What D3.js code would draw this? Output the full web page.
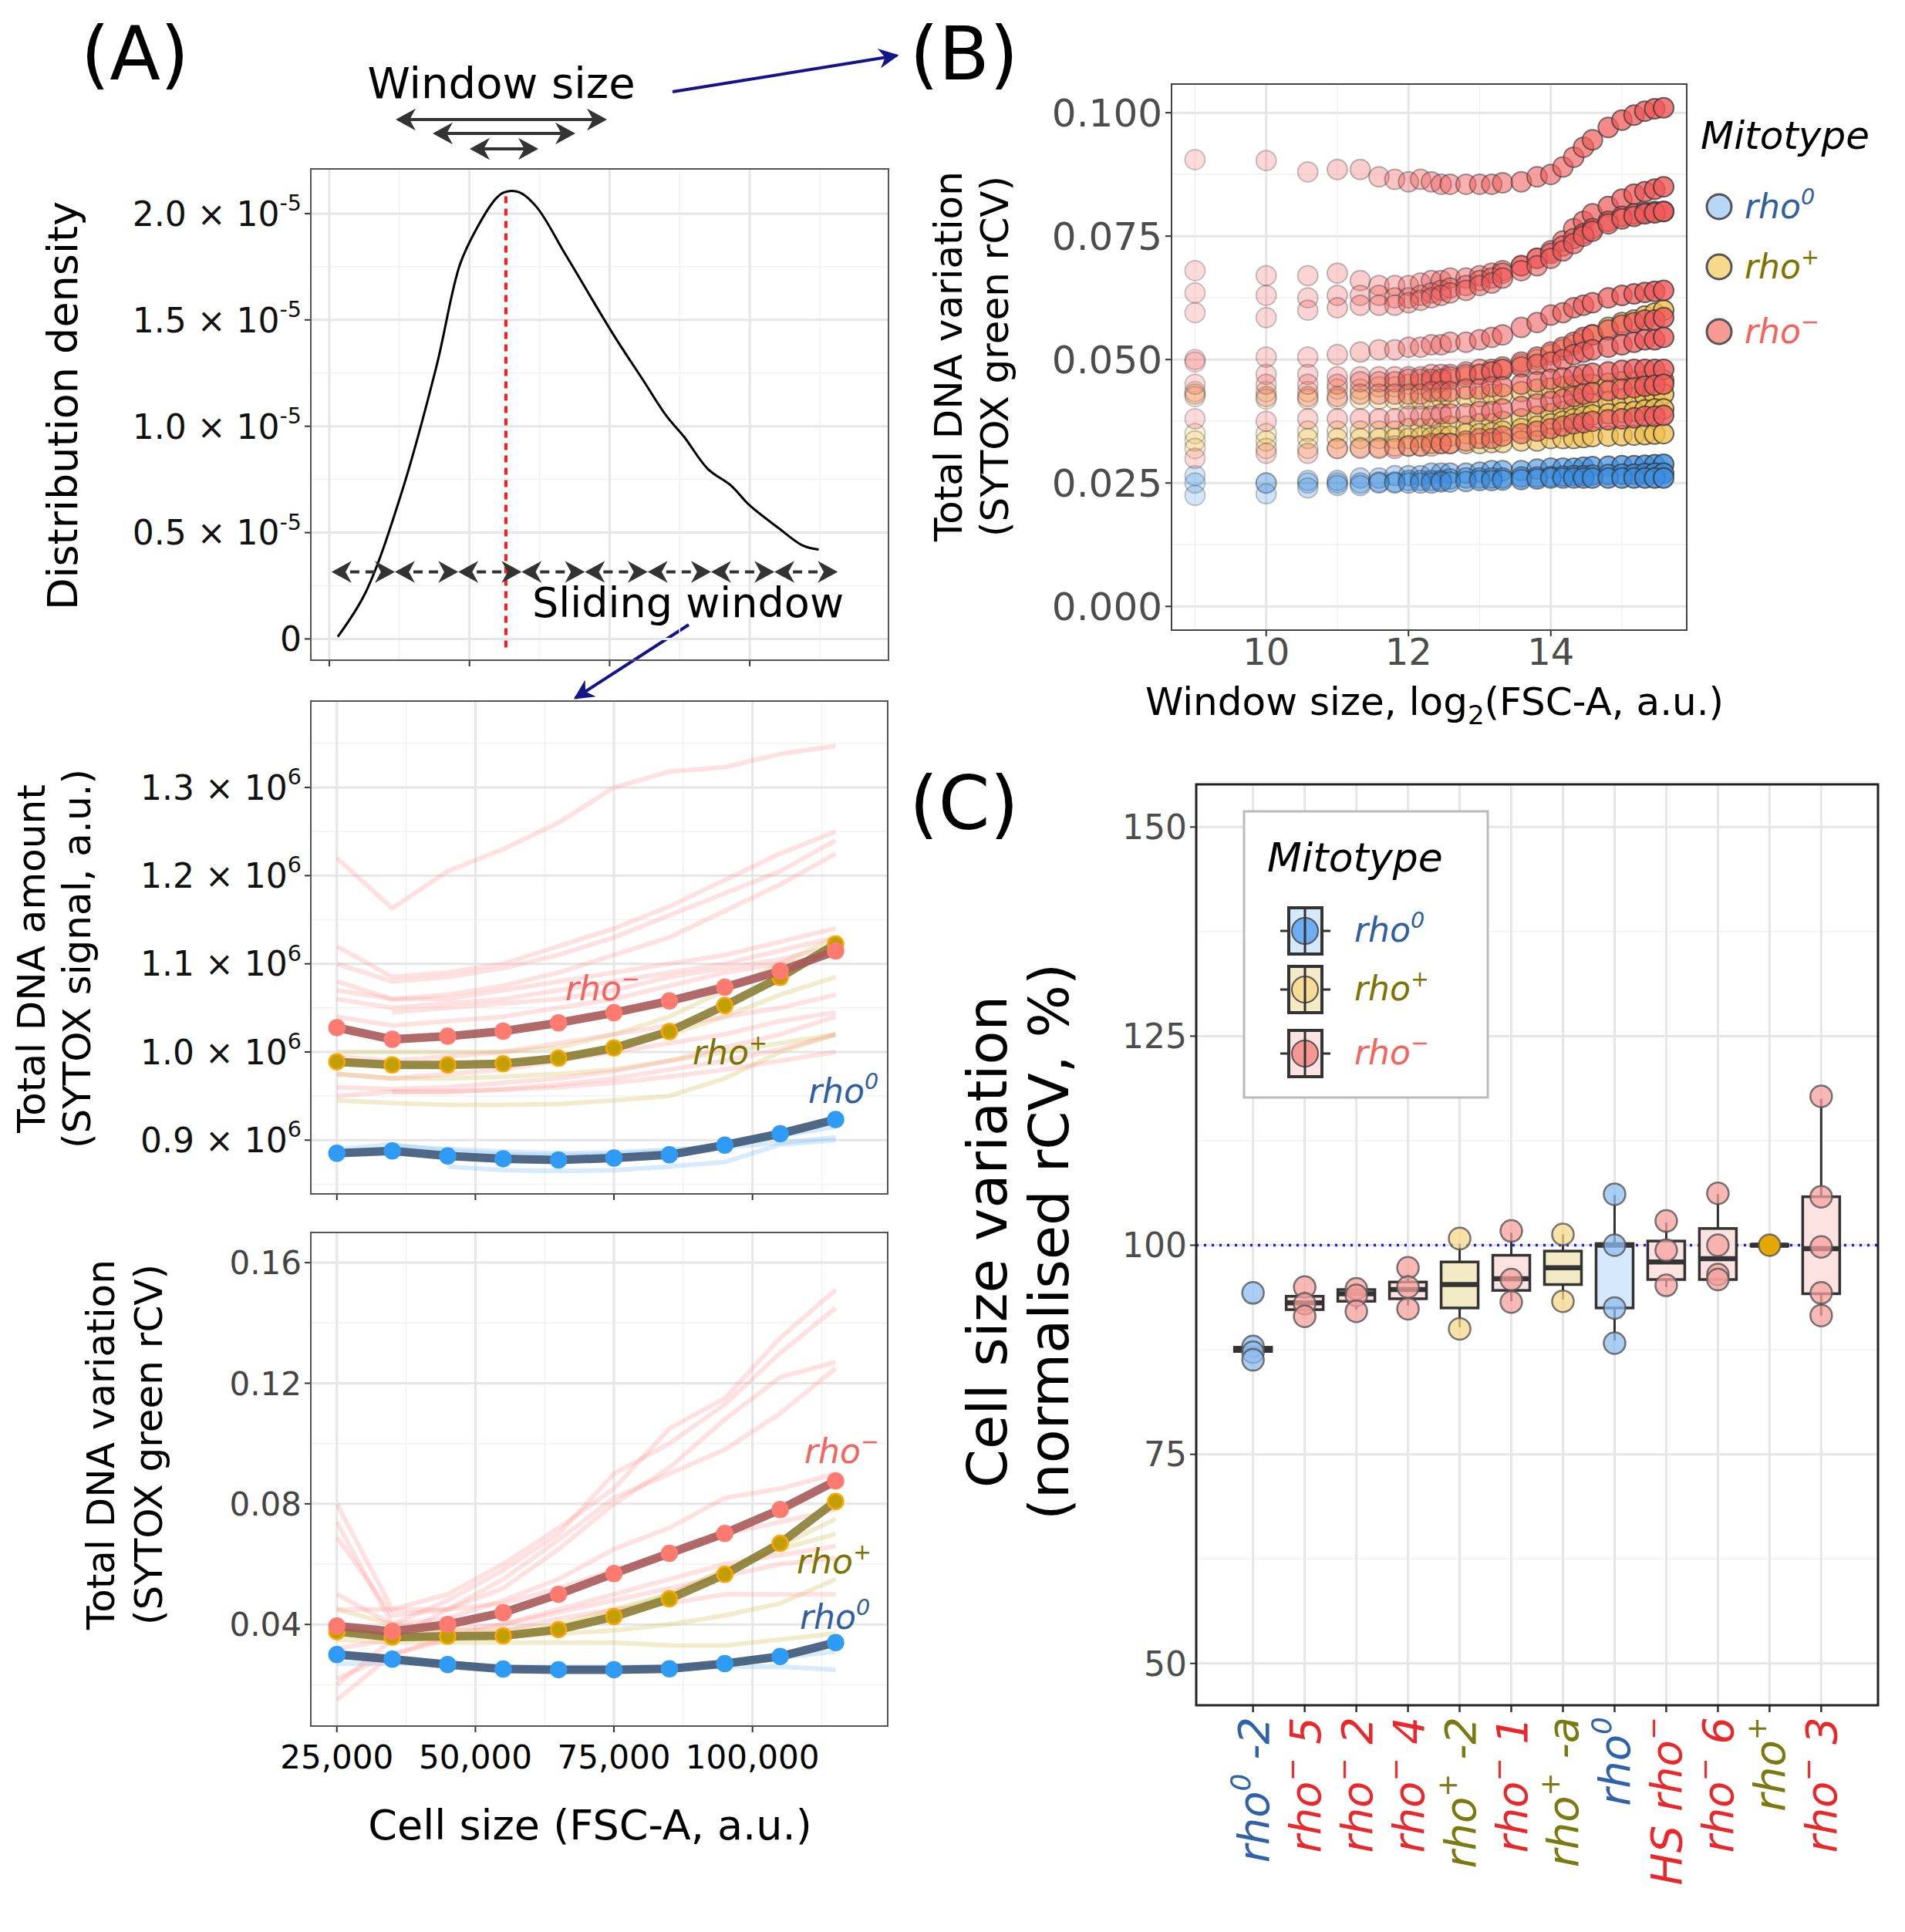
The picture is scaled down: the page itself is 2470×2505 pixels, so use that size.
<!DOCTYPE html>
<html>
<head>
<meta charset="utf-8">
<script src="https://cdn.jsdelivr.net/npm/d3@7"></script>
<style>
  body { margin: 0; background: #fff; }
  text { font-family: "DejaVu Sans", sans-serif; }
</style>
</head>
<body>
<script>
// ---------- data ----------
// (A) top: density of cell size
var densX = [26500, 31500, 37800, 44100, 48300, 51500, 54700, 56200, 58900, 62000, 67300, 75700, 80900, 85100, 88300, 92500, 96700, 99900, 105200, 109400, 112300];
var densY = [0.01, 0.22, 0.68, 1.28, 1.76, 1.94, 2.07, 2.10, 2.10, 2.03, 1.80, 1.43, 1.22, 1.05, 0.95, 0.80, 0.72, 0.63, 0.52, 0.44, 0.42];
var densMode = 56500;
var slideEdges = [25400, 36700, 48000, 59300, 70600, 81800, 93100, 104400, 115700];

// (A) middle / bottom: cell size bins
var cellSize = [25000, 35000, 45000, 55000, 65000, 75000, 85000, 95000, 105000, 115000];
var amtMinus = [1.0276, 1.0143, 1.0178, 1.0236, 1.0330, 1.0445, 1.0579, 1.0735, 1.0918, 1.1145];
var amtPlus  = [0.9889, 0.9853, 0.9853, 0.9866, 0.9929, 1.0045, 1.0232, 1.0526, 1.0846, 1.1225];
var amtZero  = [0.8851, 0.8878, 0.8820, 0.8789, 0.8775, 0.8797, 0.8833, 0.8944, 0.9073, 0.9234];
var amtMinusRuns = [
  [1.22, 1.163, 1.205, 1.23, 1.26, 1.30, 1.318, 1.323, 1.338, 1.347],
  [1.12, 1.085, 1.09, 1.10, 1.12, 1.14, 1.165, 1.195, 1.225, 1.25],
  [1.10, 1.08, 1.085, 1.095, 1.11, 1.13, 1.155, 1.18, 1.205, 1.24],
  [1.07, 1.06, 1.065, 1.075, 1.09, 1.11, 1.13, 1.16, 1.19, 1.225],
  [1.08, 1.06, 1.06, 1.07, 1.08, 1.09, 1.10, 1.11, 1.125, 1.14],
  [1.06, 1.05, 1.055, 1.06, 1.07, 1.08, 1.09, 1.10, 1.115, 1.13],
  [null, 1.045, 1.05, 1.055, 1.06, 1.07, 1.085, 1.095, 1.105, 1.12],
  [1.04, 1.03, 1.035, 1.04, 1.05, 1.06, 1.075, 1.09, 1.10, 1.11],
  [0.995, 0.99, 0.995, 1.00, 1.01, 1.02, 1.03, 1.04, 1.05, 1.065],
  [0.975, 0.97, 0.975, 0.98, 0.99, 1.00, 1.01, 1.02, 1.035, 1.045],
  [0.96, 0.958, 0.96, 0.965, 0.97, 0.978, 0.99, 1.005, 1.02, 1.04],
  [0.95, 0.955, 0.955, 0.958, 0.963, 0.97, 0.98, 0.99, 1.003, 1.02],
  [null, 0.955, 0.955, 0.957, 0.96, 0.965, 0.972, 0.98, 0.99, 1.00]
];
var amtPlusRuns = [
  [1.00, 1.00, 1.00, 1.00, 1.005, 1.02, 1.04, 1.07, 1.10, 1.13],
  [0.99, 0.985, 0.985, 0.99, 0.995, 1.005, 1.02, 1.04, 1.065, 1.085],
  [0.975, 0.97, 0.97, 0.972, 0.975, 0.98, 0.99, 1.00, 1.01, 1.02],
  [0.945, 0.942, 0.94, 0.94, 0.941, 0.945, 0.95, 0.97, 1.00, 1.02]
];
var amtZeroRuns = [
  [0.89, 0.895, 0.888, 0.884, 0.883, 0.884, 0.888, 0.895, 0.905, 0.915],
  [0.875, null, 0.87, 0.866, 0.865, 0.866, 0.87, 0.875, 0.895, 0.90],
  [null, 0.893, 0.89, 0.887, 0.885, 0.886, 0.889, 0.892, 0.897, 0.903]
];

var cvMinus = [0.0395, 0.0377, 0.0400, 0.0439, 0.0500, 0.0569, 0.0636, 0.0702, 0.0781, 0.0876];
var cvPlus  = [0.0376, 0.0358, 0.0361, 0.0362, 0.0383, 0.0426, 0.0485, 0.0566, 0.0669, 0.0808];
var cvZero  = [0.0300, 0.0285, 0.0267, 0.0252, 0.0250, 0.0250, 0.0253, 0.0270, 0.0294, 0.0340];
var cvMinusRuns = [
  [0.080, 0.045, 0.050, 0.060, 0.072, 0.085, 0.105, 0.115, 0.135, 0.151],
  [0.074, 0.040, 0.048, 0.058, 0.070, 0.090, 0.100, 0.113, 0.130, 0.145],
  [0.069, 0.043, 0.045, 0.052, 0.065, 0.080, 0.092, 0.108, 0.122, 0.127],
  [0.020, 0.035, 0.045, 0.055, 0.068, 0.082, 0.090, 0.098, 0.110, 0.125],
  [0.050, 0.040, 0.042, 0.048, 0.055, 0.065, 0.072, 0.082, 0.085, 0.090],
  [0.045, 0.045, 0.045, 0.047, 0.052, 0.058, 0.063, 0.070, 0.074, 0.078],
  [0.032, 0.035, 0.038, 0.040, 0.045, 0.050, 0.055, 0.060, 0.063, 0.066],
  [0.015, 0.030, 0.035, 0.038, 0.042, 0.045, 0.047, 0.050, 0.050, 0.050],
  [0.022, 0.030, 0.036, 0.040, 0.044, 0.048, 0.052, 0.056, 0.060, 0.062]
];
var cvPlusRuns = [
  [0.045, 0.040, 0.038, 0.038, 0.040, 0.045, 0.050, 0.058, 0.065, 0.070],
  [0.035, 0.034, 0.034, 0.034, 0.034, 0.034, 0.033, 0.033, 0.035, 0.037],
  [0.038, 0.036, 0.036, 0.036, 0.037, 0.038, 0.040, 0.043, 0.047, 0.055],
  [0.040, 0.036, 0.035, 0.036, 0.039, 0.044, 0.050, 0.058, 0.066, 0.075]
];
var cvZeroRuns = [
  [0.031, 0.029, 0.027, 0.026, 0.025, 0.025, 0.026, 0.027, 0.029, 0.031],
  [0.027, 0.027, 0.027, 0.026, 0.026, 0.026, 0.026, 0.026, 0.026, 0.025]
];

// (B) rCV against window size
var windowSize = [512, 1024, 1536, 2048, 2560, 3072, 3584, 4096, 4608, 5120, 5632, 6144, 7168, 8192, 9216, 10240, 12288, 14336, 16384, 18432, 20480, 22528, 24576, 28672, 32768, 36864, 40960, 45056, 49152];
var winMinus = [
  [0.0905, 0.0903, 0.088, 0.0885, 0.0885, 0.087, 0.0865, 0.086, 0.0865, 0.086, 0.0855, 0.0855, 0.0855, 0.0855, 0.0855, 0.0858, 0.086, 0.087, 0.0875, 0.089, 0.091, 0.093, 0.0945, 0.097, 0.0985, 0.0995, 0.1003, 0.1008, 0.101],
  [0.068, 0.067, 0.067, 0.0675, 0.066, 0.065, 0.065, 0.065, 0.0655, 0.066, 0.066, 0.0665, 0.0665, 0.067, 0.0675, 0.068, 0.069, 0.0705, 0.072, 0.074, 0.0765, 0.078, 0.0795, 0.081, 0.0825, 0.0835, 0.084, 0.0845, 0.085],
  [0.0635, 0.063, 0.0625, 0.063, 0.063, 0.063, 0.0625, 0.0625, 0.063, 0.0635, 0.064, 0.0645, 0.065, 0.066, 0.0665, 0.0675, 0.069, 0.0705, 0.0715, 0.073, 0.0745, 0.0755, 0.0765, 0.078, 0.079, 0.0795, 0.0798, 0.080, 0.080],
  [0.0595, 0.0585, 0.060, 0.0605, 0.061, 0.061, 0.061, 0.0615, 0.062, 0.0625, 0.063, 0.0635, 0.064, 0.065, 0.0655, 0.0665, 0.068, 0.069, 0.0705, 0.072, 0.0735, 0.075, 0.076, 0.0775, 0.0785, 0.079, 0.0795, 0.0797, 0.080],
  [0.050, 0.0505, 0.0505, 0.051, 0.0515, 0.052, 0.052, 0.0525, 0.0525, 0.053, 0.053, 0.0535, 0.0535, 0.054, 0.0545, 0.055, 0.0565, 0.0575, 0.059, 0.0595, 0.0605, 0.061, 0.0615, 0.0625, 0.063, 0.0633, 0.0636, 0.0638, 0.064],
  [0.0495, 0.047, 0.047, 0.0465, 0.0465, 0.0465, 0.0465, 0.0465, 0.0465, 0.047, 0.047, 0.047, 0.0475, 0.048, 0.048, 0.0485, 0.0495, 0.0505, 0.0515, 0.0525, 0.0535, 0.0545, 0.055, 0.056, 0.057, 0.0575, 0.058, 0.058, 0.0585],
  [0.045, 0.045, 0.045, 0.045, 0.0455, 0.0455, 0.0455, 0.046, 0.046, 0.046, 0.046, 0.0465, 0.047, 0.047, 0.0475, 0.048, 0.0485, 0.049, 0.0495, 0.050, 0.051, 0.0515, 0.052, 0.0525, 0.053, 0.0535, 0.054, 0.054, 0.0545],
  [0.043, 0.0425, 0.0425, 0.0425, 0.043, 0.043, 0.043, 0.043, 0.043, 0.0435, 0.0435, 0.0435, 0.044, 0.044, 0.0445, 0.0445, 0.045, 0.0455, 0.046, 0.0463, 0.0466, 0.047, 0.0472, 0.0475, 0.0478, 0.048, 0.048, 0.048, 0.048],
  [0.038, 0.0375, 0.038, 0.038, 0.038, 0.038, 0.038, 0.0385, 0.0385, 0.0385, 0.039, 0.039, 0.039, 0.0395, 0.0395, 0.040, 0.0405, 0.041, 0.0415, 0.042, 0.0425, 0.043, 0.0433, 0.0437, 0.044, 0.0443, 0.0446, 0.0448, 0.045],
  [0.030, 0.031, 0.031, 0.032, 0.032, 0.032, 0.032, 0.0325, 0.0325, 0.033, 0.033, 0.033, 0.0335, 0.034, 0.034, 0.0345, 0.035, 0.0355, 0.036, 0.0365, 0.037, 0.0372, 0.0375, 0.0378, 0.038, 0.0382, 0.0385, 0.0385, 0.0387]
];
var winPlus = [
  [0.0435, 0.0435, 0.0435, 0.044, 0.044, 0.0445, 0.0445, 0.045, 0.045, 0.0455, 0.0455, 0.046, 0.0465, 0.047, 0.0475, 0.048, 0.049, 0.050, 0.051, 0.052, 0.053, 0.054, 0.055, 0.0565, 0.0575, 0.058, 0.0588, 0.0594, 0.060],
  [0.0425, 0.042, 0.042, 0.042, 0.042, 0.042, 0.042, 0.042, 0.042, 0.042, 0.0422, 0.0422, 0.0425, 0.0425, 0.043, 0.043, 0.0435, 0.044, 0.0442, 0.0445, 0.0447, 0.045, 0.045, 0.0452, 0.0455, 0.0455, 0.0456, 0.0457, 0.0458],
  [0.035, 0.035, 0.0355, 0.0355, 0.0355, 0.0355, 0.0355, 0.036, 0.036, 0.036, 0.036, 0.0365, 0.0365, 0.037, 0.037, 0.0375, 0.038, 0.0385, 0.039, 0.0395, 0.040, 0.0405, 0.041, 0.0415, 0.042, 0.0423, 0.0426, 0.0428, 0.043],
  [0.0335, 0.0335, 0.034, 0.034, 0.034, 0.034, 0.034, 0.034, 0.0342, 0.0342, 0.0345, 0.0345, 0.035, 0.035, 0.0352, 0.0355, 0.036, 0.0365, 0.037, 0.0375, 0.038, 0.0385, 0.0388, 0.039, 0.0393, 0.0395, 0.0398, 0.040, 0.040],
  [0.032, 0.032, 0.032, 0.032, 0.0322, 0.0322, 0.0325, 0.0325, 0.0325, 0.0325, 0.033, 0.033, 0.033, 0.033, 0.0332, 0.0332, 0.0335, 0.0335, 0.034, 0.034, 0.034, 0.0342, 0.0344, 0.0345, 0.0346, 0.0347, 0.0348, 0.0349, 0.035]
];
var winZero = [
  [0.0265, 0.025, 0.0255, 0.0255, 0.026, 0.026, 0.0265, 0.0265, 0.0265, 0.027, 0.027, 0.027, 0.027, 0.0272, 0.0275, 0.0275, 0.0275, 0.0278, 0.028, 0.028, 0.028, 0.0282, 0.0283, 0.0284, 0.0285, 0.0285, 0.0286, 0.0287, 0.0288],
  [0.025, 0.025, 0.025, 0.025, 0.025, 0.0252, 0.0252, 0.0255, 0.0255, 0.0255, 0.0255, 0.0258, 0.026, 0.026, 0.026, 0.026, 0.0262, 0.0262, 0.0263, 0.0264, 0.0265, 0.0265, 0.0266, 0.0267, 0.0268, 0.0268, 0.0269, 0.027, 0.027],
  [0.0225, 0.0228, 0.024, 0.0245, 0.0245, 0.025, 0.025, 0.025, 0.025, 0.025, 0.0252, 0.0252, 0.0253, 0.0255, 0.0255, 0.0256, 0.0257, 0.0258, 0.026, 0.026, 0.026, 0.026, 0.026, 0.026, 0.026, 0.026, 0.026, 0.026, 0.026]
];

// (C) normalised cell size rCV per strain
var strainName = ["-2", "5", "2", "4", "-2", "1", "-a", "", "", "6", "", "3"];
var strainPre  = ["", "", "", "", "", "", "", "", "HS ", "", "", ""];
var strainType = ["zero", "minus", "minus", "minus", "plus", "minus", "plus", "zero", "minus", "minus", "plus", "minus"];
var boxQ1  = [87.3, 92.3, 93.3, 93.6, 92.5, 94.6, 95.3, 92.5, 95.9, 95.9, 99.9, 94.2];
var boxMed = [87.5, 93.1, 94.2, 94.7, 95.3, 96.0, 97.3, 100.0, 98.0, 98.4, 100.0, 99.6];
var boxQ3  = [87.8, 93.9, 94.7, 95.6, 98.0, 98.8, 99.3, 100.2, 100.5, 102.0, 100.1, 105.8];
var boxLo  = [87.3, 91.9, 92.3, 92.8, 90.2, 93.3, 93.5, 88.6, 95.0, 95.9, 99.9, 91.6];
var boxHi  = [87.8, 94.5, 95.0, 96.5, 100.0, 101.5, 101.3, 106.0, 102.7, 106.1, 100.1, 117.5];
var strainPts = [
  [94.3, 87.9, 87.2, 86.3],
  [95.0, 93.0, 91.5],
  [94.8, 94.0, 92.1],
  [97.3, 95.0, 92.4],
  [100.8, 90.0],
  [101.7, 95.9, 93.2],
  [101.3, 93.3],
  [106.1, 100.0, 92.5, 88.3],
  [102.9, 99.4, 95.2],
  [106.2, 100.0, 96.5, 95.9],
  [100.0],
  [117.8, 105.8, 99.8, 94.3, 91.6]
];

// ---------- styling ----------
var txtCol = { zero: "#2f5f9e", plus: "#7d7400", minus: "#f4645f" };
var labCol = { zero: "#2f62a8", plus: "#7a7a10", minus: "#e8282b" };
var supOf  = { zero: "0", plus: "+", minus: "\u2212" };

var svg = d3.select("body").append("svg").attr("width", 2470).attr("height", 2505);

function addRho(sel, type, size, pre) {
  var t = sel.append("text").attr("font-size", size).attr("font-style", "italic").attr("fill", txtCol[type]);
  if (pre) t.append("tspan").text(pre);
  t.append("tspan").text("rho");
  t.append("tspan").attr("dy", -size * 0.42).attr("font-size", size * 0.65).text(supOf[type]);
  return t;
}

function frame(x0, y0, x1, y1, col, w) {
  svg.append("rect").attr("x", x0).attr("y", y0).attr("width", x1 - x0).attr("height", y1 - y0)
    .attr("fill", "none").attr("stroke", col || "#444").attr("stroke-width", w || 2);
}

function grid(g, x, y, xMaj, xMin, yMaj, yMin) {
  var xr = x.range(), yr = y.range();
  g.selectAll(null).data(xMin).enter().append("line").attr("x1", x).attr("x2", x)
    .attr("y1", yr[0]).attr("y2", yr[1]).attr("stroke", "#f2f2f2").attr("stroke-width", 1.5);
  g.selectAll(null).data(yMin).enter().append("line").attr("y1", y).attr("y2", y)
    .attr("x1", xr[0]).attr("x2", xr[1]).attr("stroke", "#f2f2f2").attr("stroke-width", 1.5);
  g.selectAll(null).data(xMaj).enter().append("line").attr("x1", x).attr("x2", x)
    .attr("y1", yr[0]).attr("y2", yr[1]).attr("stroke", "#e6e6e6").attr("stroke-width", 3);
  g.selectAll(null).data(yMaj).enter().append("line").attr("y1", y).attr("y2", y)
    .attr("x1", xr[0]).attr("x2", xr[1]).attr("stroke", "#e6e6e6").attr("stroke-width", 3);
}

function sciTicks(g, y, vals, x0, mant, exp, size) {
  vals.forEach(function(v, i) {
    g.append("line").attr("x1", x0 - 8).attr("x2", x0).attr("y1", y(v)).attr("y2", y(v)).attr("stroke", "#333").attr("stroke-width", 2);
    var t = g.append("text").attr("x", x0 - 12).attr("y", y(v) + size * 0.36).attr("text-anchor", "end")
      .attr("font-size", size).attr("fill", "#111");
    if (mant[i] === "0") { t.text("0"); return; }
    t.append("tspan").text(mant[i] + " \u00d7 10");
    t.append("tspan").attr("dy", -size * 0.45).attr("font-size", size * 0.65).text(exp);
  });
}

function plainTicksY(g, y, vals, x0, fmt, size, col) {
  vals.forEach(function(v) {
    g.append("line").attr("x1", x0 - 8).attr("x2", x0).attr("y1", y(v)).attr("y2", y(v)).attr("stroke", "#333").attr("stroke-width", 2);
    g.append("text").attr("x", x0 - 12).attr("y", y(v) + size * 0.36).attr("text-anchor", "end")
      .attr("font-size", size).attr("fill", col).text(fmt(v));
  });
}

function vTitle(lines, cx, cy, size) {
  lines.forEach(function(l) {
    svg.append("text").attr("transform", "translate(" + l[0] + "," + cy + ") rotate(-90)")
      .attr("text-anchor", "middle").attr("font-size", size).attr("fill", "#000").text(l[1]);
  });
}

// ---------- panel labels ----------
[["(A)", 175, 103], ["(B)", 1250, 103], ["(C)", 1250, 1075]].forEach(function(p) {
  svg.append("text").attr("x", p[1]).attr("y", p[2]).attr("text-anchor", "middle")
    .attr("font-size", 96).text(p[0]);
});

// navy connector arrows
svg.append("defs").append("marker").attr("id", "navyHead").attr("viewBox", "0 0 10 10")
  .attr("refX", 9).attr("refY", 5).attr("orient", "auto")
  .attr("markerUnits", "userSpaceOnUse").attr("markerWidth", 34).attr("markerHeight", 26)
  .append("path").attr("d", "M0,0 L10,5 L0,10 L3,5 Z").attr("fill", "#14148a");
svg.append("line").attr("x1", 872).attr("y1", 119).attr("x2", 1163).attr("y2", 72)
  .attr("stroke", "#14148a").attr("stroke-width", 4).attr("marker-end", "url(#navyHead)");
svg.append("line").attr("x1", 893).attr("y1", 810).attr("x2", 746).attr("y2", 905)
  .attr("stroke", "#14148a").attr("stroke-width", 4).attr("marker-end", "url(#navyHead)");

// ---------- (A) density ----------
var xD = d3.scaleLinear().domain([21700, 124750]).range([403, 1152]);
var yD = d3.scaleLinear().domain([-0.10, 2.21]).range([856, 219]);
var gD = svg.append("g");
grid(gD, xD, yD, [25000, 50000, 75000, 100000], [37500, 62500, 87500, 112500],
     [0, 0.5, 1, 1.5, 2], [0.25, 0.75, 1.25, 1.75]);
sciTicks(gD, yD, [0, 0.5, 1, 1.5, 2], 403, ["0", "0.5", "1.0", "1.5", "2.0"], "-5", 44);
[25000, 50000, 75000, 100000].forEach(function(v) {
  gD.append("line").attr("x1", xD(v)).attr("x2", xD(v)).attr("y1", 856).attr("y2", 864).attr("stroke", "#333").attr("stroke-width", 2);
});
gD.append("path").datum(d3.zip(densX, densY))
  .attr("d", d3.line().x(function(d) { return xD(d[0]); }).y(function(d) { return yD(d[1]); }).curve(d3.curveCatmullRom))
  .attr("fill", "none").attr("stroke", "#000").attr("stroke-width", 3);
gD.append("line").attr("x1", xD(densMode)).attr("x2", xD(densMode)).attr("y1", yD(-0.04)).attr("y2", yD(2.1))
  .attr("stroke", "#ff1a1a").attr("stroke-width", 4).attr("stroke-dasharray", "9,7");
frame(403, 219, 1152, 856, "#555", 2);

// double-headed arrows
function headPath(x, y, dir, s) {
  return "M" + x + "," + y + " L" + (x - dir * s) + "," + (y - s * 0.55) +
         " L" + (x - dir * s * 0.7) + "," + y + " L" + (x - dir * s) + "," + (y + s * 0.55) + " Z";
}
function dblArrow(g, x0, x1, y, dash, s) {
  g.append("line").attr("x1", x0 + 4).attr("x2", x1 - 4).attr("y1", y).attr("y2", y)
    .attr("stroke", "#333").attr("stroke-width", 4).attr("stroke-dasharray", dash || null);
  g.append("path").attr("d", headPath(x0, y, -1, s)).attr("fill", "#333");
  g.append("path").attr("d", headPath(x1, y, 1, s)).attr("fill", "#333");
}
var windowLines = [[513, 787, 155], [561, 746, 173], [609, 698, 193]];
windowLines.forEach(function(w) { dblArrow(svg, w[0], w[1], w[2], null, 26); });
svg.append("text").attr("x", 650).attr("y", 127).attr("text-anchor", "middle").attr("font-size", 56).text("Window size");

for (var i = 0; i < slideEdges.length - 1; i++) {
  dblArrow(gD, xD(slideEdges[i]), xD(slideEdges[i + 1]), yD(0.315), "12,8", 26);
}
svg.append("text").attr("x", 892).attr("y", 800).attr("text-anchor", "middle").attr("font-size", 54).text("Sliding window");
vTitle([[100, "Distribution density"]], 0, 526, 54);

// ---------- (A) middle: DNA amount ----------
var xM = d3.scaleLinear().domain([20300, 124400]).range([403, 1151]);
var yM = d3.scaleLinear().domain([0.839, 1.398]).range([1548, 909]);
var gM = svg.append("g");
grid(gM, xM, yM, [25000, 50000, 75000, 100000], [37500, 62500, 87500, 112500],
     [0.9, 1.0, 1.1, 1.2, 1.3], [0.85, 0.95, 1.05, 1.15, 1.25, 1.35]);
sciTicks(gM, yM, [0.9, 1.0, 1.1, 1.2, 1.3], 403, ["0.9", "1.0", "1.1", "1.2", "1.3"], "6", 44);
[25000, 50000, 75000, 100000].forEach(function(v) {
  gM.append("line").attr("x1", xM(v)).attr("x2", xM(v)).attr("y1", 1548).attr("y2", 1556).attr("stroke", "#333").attr("stroke-width", 2);
});

function runLines(g, x, y, runs, col, op) {
  var line = d3.line().defined(function(d) { return d != null; })
    .x(function(d, i) { return x(cellSize[i]); }).y(function(d) { return y(d); });
  g.selectAll(null).data(runs).enter().append("path").attr("d", line)
    .attr("fill", "none").attr("stroke", col).attr("stroke-opacity", op).attr("stroke-width", 6);
}
function meanLine(g, x, y, vals, lineCol, ptCol, ptStroke) {
  var line = d3.line().x(function(d, i) { return x(cellSize[i]); }).y(function(d) { return y(d); });
  g.append("path").datum(vals).attr("d", line).attr("fill", "none")
    .attr("stroke", lineCol).attr("stroke-width", 11).attr("stroke-opacity", 0.9);
  g.selectAll(null).data(vals).enter().append("circle")
    .attr("cx", function(d, i) { return x(cellSize[i]); }).attr("cy", y).attr("r", 10)
    .attr("fill", ptCol).attr("stroke", ptStroke).attr("stroke-width", 2.5);
}

runLines(gM, xM, yM, amtZeroRuns, "#8ec5f5", 0.35);
runLines(gM, xM, yM, amtPlusRuns, "#d9c870", 0.35);
runLines(gM, xM, yM, amtMinusRuns, "#ff9a9a", 0.3);
meanLine(gM, xM, yM, amtZero, "#3d5878", "#2f9bf5", "#2f9bf5");
meanLine(gM, xM, yM, amtPlus, "#8a7d33", "#c0a000", "#ffa500");
meanLine(gM, xM, yM, amtMinus, "#a85a5a", "#ff7b70", "#ff7b70");
frame(403, 909, 1151, 1548, "#555", 2);
addRho(svg, "minus", 44).attr("x", 733).attr("y", 1297);
addRho(svg, "plus", 44).attr("x", 898).attr("y", 1380);
addRho(svg, "zero", 44).attr("x", 1048).attr("y", 1430);
vTitle([[58, "Total DNA amount"], [117, "(SYTOX signal, a.u.)"]], 0, 1243, 50);

// ---------- (A) bottom: DNA variation ----------
var yV = d3.scaleLinear().domain([0.0063, 0.170]).range([2238, 1598]);
var gV = svg.append("g");
grid(gV, xM, yV, [25000, 50000, 75000, 100000], [37500, 62500, 87500, 112500],
     [0.04, 0.08, 0.12, 0.16], [0.02, 0.06, 0.10, 0.14]);
plainTicksY(gV, yV, [0.04, 0.08, 0.12, 0.16], 403, d3.format(".2f"), 42, "#444");
var fmtK = d3.format(",");
[25000, 50000, 75000, 100000].forEach(function(v) {
  gV.append("line").attr("x1", xM(v)).attr("x2", xM(v)).attr("y1", 2238).attr("y2", 2246).attr("stroke", "#333").attr("stroke-width", 2);
  gV.append("text").attr("x", xM(v)).attr("y", 2293).attr("text-anchor", "middle").attr("font-size", 42).text(fmtK(v));
});
runLines(gV, xM, yV, cvZeroRuns, "#8ec5f5", 0.35);
runLines(gV, xM, yV, cvPlusRuns, "#d9c870", 0.35);
runLines(gV, xM, yV, cvMinusRuns, "#ff9a9a", 0.3);
meanLine(gV, xM, yV, cvZero, "#3d5878", "#2f9bf5", "#2f9bf5");
meanLine(gV, xM, yV, cvPlus, "#8a7d33", "#c0a000", "#ffa500");
meanLine(gV, xM, yV, cvMinus, "#a85a5a", "#ff7b70", "#ff7b70");
frame(403, 1598, 1151, 2238, "#555", 2);
addRho(svg, "minus", 44).attr("x", 1043).attr("y", 1897);
addRho(svg, "plus", 44).attr("x", 1033).attr("y", 2040);
addRho(svg, "zero", 44).attr("x", 1037).attr("y", 2112);
svg.append("text").attr("x", 765).attr("y", 2385).attr("text-anchor", "middle").attr("font-size", 54).text("Cell size (FSC-A, a.u.)");
vTitle([[148, "Total DNA variation"], [210, "(SYTOX green rCV)"]], 0, 1873, 50);

// ---------- (B) window size ----------
var xB = d3.scaleLinear().domain([8.67, 15.91]).range([1519, 2187]);
var yB = d3.scaleLinear().domain([-0.0048, 0.1058]).range([817, 109]);
var gB = svg.append("g");
grid(gB, xB, yB, [10, 12, 14], [9, 11, 13, 15], [0, 0.025, 0.05, 0.075, 0.1], [0.0125, 0.0375, 0.0625, 0.0875]);
plainTicksY(gB, yB, [0, 0.025, 0.05, 0.075, 0.1], 1519, d3.format(".3f"), 50, "#4d4d4d");
[10, 12, 14].forEach(function(v) {
  gB.append("line").attr("x1", xB(v)).attr("x2", xB(v)).attr("y1", 817).attr("y2", 825).attr("stroke", "#333").attr("stroke-width", 2);
  gB.append("text").attr("x", xB(v)).attr("y", 862).attr("text-anchor", "middle").attr("font-size", 48).attr("fill", "#4d4d4d").text(v);
});
var bFill = { zero: "#3d8ee0", plus: "#f0c050", minus: "#f05a5a" };
var nW = windowSize.length;
function winSeries(series, type) {
  series.forEach(function(s) {
    gB.selectAll(null).data(s).enter().append("circle")
      .attr("cx", function(d, i) { return xB(Math.log2(windowSize[i])); })
      .attr("cy", yB).attr("r", 13)
      .attr("fill", bFill[type])
      .attr("fill-opacity", function(d, i) { return 0.22 + 0.6 * i / (nW - 1); })
      .attr("stroke", "#333")
      .attr("stroke-opacity", function(d, i) { return 0.25 + 0.5 * i / (nW - 1); })
      .attr("stroke-width", 2);
  });
}
winSeries(winZero, "zero");
winSeries(winPlus, "plus");
winSeries(winMinus, "minus");
frame(1519, 109, 2187, 817, "#444", 2);
svg.append("text").attr("x", 1860).attr("y", 927).attr("text-anchor", "middle").attr("font-size", 50)
  .call(function(t) {
    t.append("tspan").text("Window size, log");
    t.append("tspan").attr("dy", 12).attr("font-size", 34).text("2");
    t.append("tspan").attr("dy", -12).text("(FSC-A, a.u.)");
  });
vTitle([[1247, "Total DNA variation"], [1307, "(SYTOX green rCV)"]], 0, 462, 50);
svg.append("text").attr("x", 2205).attr("y", 193).attr("font-size", 50).attr("font-style", "italic").text("Mitotype");
var legB = [["zero", 268, "#b8d7f7"], ["plus", 346, "#f7d98b"], ["minus", 430, "#f79a92"]];
legB.forEach(function(l) {
  svg.append("circle").attr("cx", 2229).attr("cy", l[1]).attr("r", 16).attr("fill", l[2]).attr("stroke", "#555").attr("stroke-width", 3);
  addRho(svg, l[0], 44).attr("x", 2262).attr("y", l[1] + 15);
});

// ---------- (C) boxplots ----------
var xC = d3.scalePoint().domain(d3.range(strainType.length)).range([1551, 2435]).padding(1.1);
var yC = d3.scaleLinear().domain([45.0, 155.1]).range([2211, 1017]);
var gC = svg.append("g");
grid(gC, xC, yC, d3.range(strainType.length), [], [50, 75, 100, 125, 150], [62.5, 87.5, 112.5, 137.5]);
plainTicksY(gC, yC, [50, 75, 100, 125, 150], 1551, d3.format("d"), 44, "#4d4d4d");
gC.append("line").attr("x1", 1551).attr("x2", 2435).attr("y1", yC(100)).attr("y2", yC(100))
  .attr("stroke", "#1a1aff").attr("stroke-width", 3.5).attr("stroke-dasharray", "3,7");
var cBox = { zero: "#d6e8fb", plus: "#f3eac6", minus: "#fde2e2" };
var cPt  = { zero: "#8fbdf0", plus: "#f5d88a", minus: "#f5a29e" };
var bw = 48;
strainType.forEach(function(t, i) {
  var cx = xC(i);
  gC.append("line").attr("x1", cx).attr("x2", cx).attr("y1", yC(boxLo[i])).attr("y2", yC(boxHi[i])).attr("stroke", "#333").attr("stroke-width", 3);
  gC.append("rect").attr("x", cx - bw / 2).attr("width", bw).attr("y", yC(boxQ3[i]))
    .attr("height", Math.max(1, yC(boxQ1[i]) - yC(boxQ3[i])))
    .attr("fill", cBox[t]).attr("stroke", "#333").attr("stroke-width", 3.5);
  gC.append("line").attr("x1", cx - bw / 2).attr("x2", cx + bw / 2).attr("y1", yC(boxMed[i])).attr("y2", yC(boxMed[i]))
    .attr("stroke", "#333").attr("stroke-width", 6.5);
  gC.selectAll(null).data(strainPts[i]).enter().append("circle")
    .attr("cx", cx).attr("cy", yC).attr("r", 14)
    .attr("fill", i === 10 ? "#e5a800" : cPt[t]).attr("fill-opacity", i === 10 ? 1 : 0.75)
    .attr("stroke", "#555").attr("stroke-opacity", 0.8).attr("stroke-width", 2.5);
  gC.append("line").attr("x1", cx).attr("x2", cx).attr("y1", 2211).attr("y2", 2220).attr("stroke", "#333").attr("stroke-width", 2.5);
  var lab = gC.append("text").attr("transform", "translate(" + (cx + 20) + ",2226) rotate(-90)")
    .attr("text-anchor", "end").attr("font-size", 56).attr("fill", labCol[t]);
  if (strainPre[i]) lab.append("tspan").attr("font-style", "italic").text(strainPre[i]);
  lab.append("tspan").attr("font-style", "italic").text("rho");
  lab.append("tspan").attr("dy", -24).attr("font-size", 36).attr("font-style", "italic").text(supOf[t]);
  if (strainName[i]) lab.append("tspan").attr("dy", 24).attr("font-style", "italic").text(" " + strainName[i]);
});
frame(1551, 1017, 2435, 2211, "#222", 3);
vTitle([[1305, "Cell size variation"], [1385, "(normalised rCV, %)"]], 0, 1610, 72);

// legend C
svg.append("rect").attr("x", 1613).attr("y", 1052).attr("width", 316).attr("height", 371)
  .attr("fill", "#fff").attr("stroke", "#bbb").attr("stroke-width", 3);
svg.append("text").attr("x", 1643).attr("y", 1130).attr("font-size", 52).attr("font-style", "italic").text("Mitotype");
var legC = [["zero", 1207, "#5aa2f0"], ["plus", 1283, "#f5d88a"], ["minus", 1366, "#f58a85"]];
legC.forEach(function(l) {
  svg.append("line").attr("x1", 1660).attr("x2", 1725).attr("y1", l[1]).attr("y2", l[1]).attr("stroke", "#333").attr("stroke-width", 3);
  svg.append("rect").attr("x", 1671).attr("y", l[1] - 30).attr("width", 43).attr("height", 60)
    .attr("fill", cBox[l[0]]).attr("stroke", "#333").attr("stroke-width", 4);
  svg.append("circle").attr("cx", 1692).attr("cy", l[1]).attr("r", 17).attr("fill", l[2]).attr("fill-opacity", 0.85)
    .attr("stroke", "#555").attr("stroke-width", 2);
  svg.append("line").attr("x1", 1692).attr("x2", 1692).attr("y1", l[1] - 30).attr("y2", l[1] + 30).attr("stroke", "#333").attr("stroke-width", 3);
  addRho(svg, l[0], 44).attr("x", 1756).attr("y", l[1] + 14);
});
</script>
</body>
</html>
